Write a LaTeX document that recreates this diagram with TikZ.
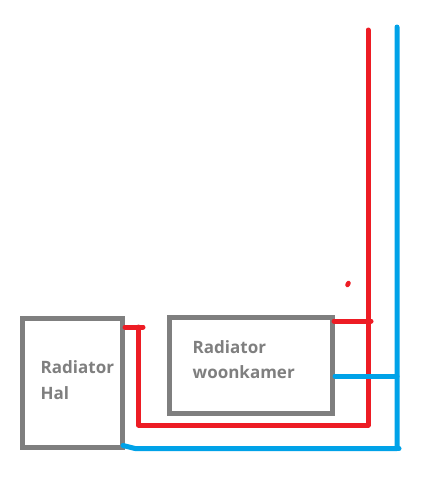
\documentclass[tikz,border=0pt]{standalone}
\usepackage{fontspec}
\setmainfont{Open Sans}
\definecolor{boxgray}{RGB}{127,127,127}
\definecolor{pipered}{RGB}{237,28,36}
\definecolor{pipeblue}{RGB}{0,162,232}
\tikzset{
  radbox/.style={draw=boxgray,line width=5pt,inner sep=0pt,outer sep=0pt,anchor=north west,fill=white},
  radlabel/.style={text=boxgray,font=\bfseries\fontsize{17}{17}\selectfont,anchor=base west,inner sep=0pt},
  redpipe/.style={draw=pipered,line width=5pt,line cap=round,line join=round},
  bluepipe/.style={draw=pipeblue,line width=5pt,line cap=round,line join=round}
}
\begin{document}
\begin{tikzpicture}[x=1pt,y=-1pt]
\useasboundingbox (0,0) rectangle (427,477);
% radiators
\node[radbox,minimum width=100pt,minimum height=129pt] (hal) at (22.5,318.5) {};
\node[radbox,minimum width=163pt,minimum height=96pt] (woon) at (169.5,317.5) {};
\node[radlabel] (halA) at (40.5,373) {Radiator};
\node[radlabel] (halB) at (40.5,399) {Hal};
\node[radlabel] (woonA) at (192.5,353) {Radiator};
\node[radlabel] (woonB) at (192.5,378) {woonkamer};
% free pipe ends
\coordinate (redtop) at (368,30);
\coordinate (redcorner) at (368,425);
\coordinate (redturn) at (138.5,425);
\coordinate (redhigh) at (138.5,327);
\coordinate (redstub) at (143,327);
\coordinate (redhalout) at (125,327);
\coordinate (redwoonout) at (334,321);
\coordinate (redwoonend) at (371,321);
\coordinate (bluetop) at (397,27);
\coordinate (bluecorner) at (397,448.5);
\coordinate (bluebend) at (135,448.5);
\coordinate (bluehalout) at (123,445.5);
\coordinate (bluewoonout) at (335,376);
\coordinate (bluewoonend) at (397,376);
\coordinate (bluestub) at (399,448.5);
\coordinate (dotA) at (347.5,285);
\coordinate (dotB) at (348.5,283);
% pipes
\draw[redpipe] (redtop) -- (redcorner) -- (redturn) -- (redhigh);
\draw[redpipe] (redhalout) -- (redstub);
\draw[redpipe] (redwoonout) -- (redwoonend);
\draw[redpipe,line width=4.5pt] (dotA) -- (dotB);
\draw[bluepipe] (bluetop) -- (bluecorner) -- (bluebend) -- (bluehalout);
\draw[bluepipe] (bluewoonout) -- (bluewoonend);
\draw[bluepipe] (bluecorner) -- (bluestub);
\end{tikzpicture}
\end{document}
